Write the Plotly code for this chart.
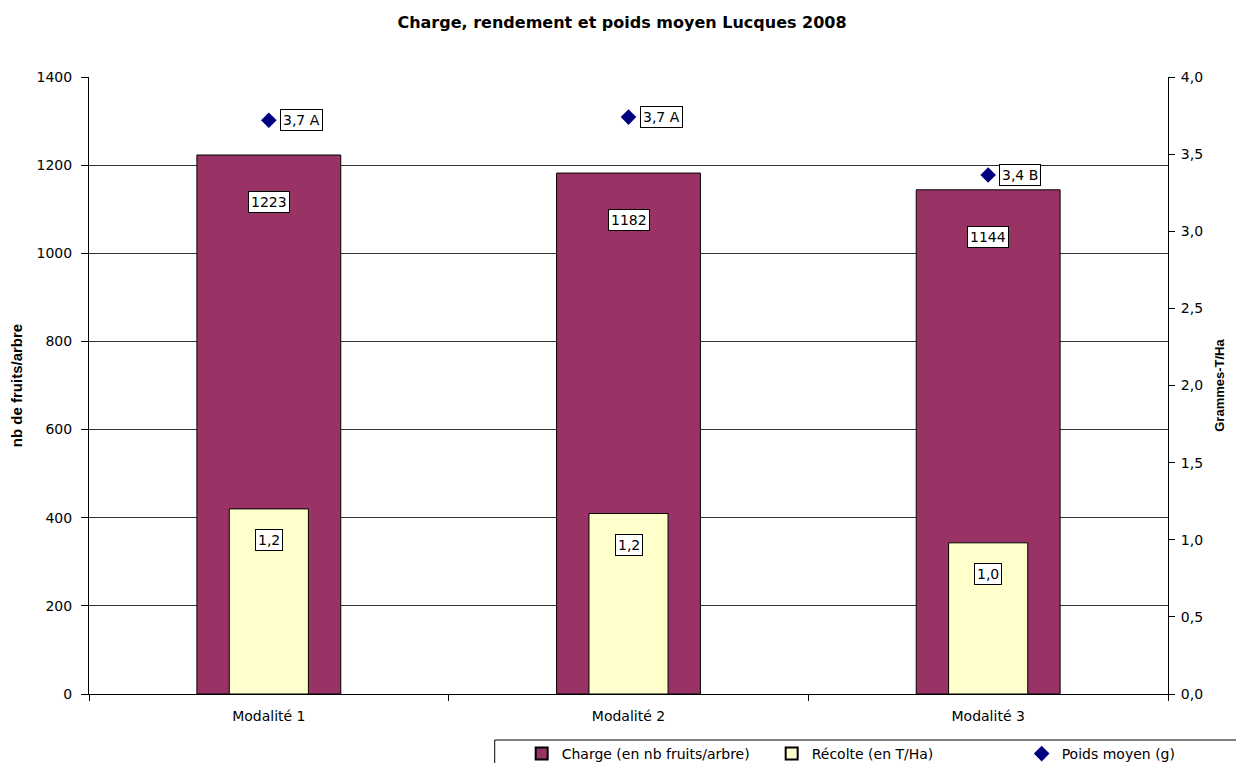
import plotly.graph_objects as go

# données Lucques 2008
modalites = ["Modalité 1", "Modalité 2", "Modalité 3"]
charge = [1223, 1182, 1144]
recolte = [1.20, 1.17, 0.98]
recolte_txt = ["1,2", "1,2", "1,0"]
poids = [3.72, 3.74, 3.365]
poids_txt = ["3,7 A", "3,7 A", "3,4 B"]

FONT = "DejaVu Sans"
FONT_B = "Liberation Sans, Arial"

fig = go.Figure()

fig.add_trace(go.Bar(
    x=modalites, y=charge, name="Charge (en nb fruits/arbre)",
    marker=dict(color="#993366", line=dict(color="black", width=1)),
    width=0.4, yaxis="y"))

fig.add_trace(go.Bar(
    x=modalites, y=recolte, name="Récolte (en T/Ha)",
    marker=dict(color="#FFFFCC", line=dict(color="black", width=1)),
    width=0.22, yaxis="y2"))

fig.add_trace(go.Scatter(
    x=modalites, y=poids, name="Poids moyen (g)", mode="markers",
    marker=dict(symbol="diamond", color="#000080", size=12),
    yaxis="y2"))

# étiquettes encadrées
lab = dict(showarrow=False, bgcolor="white", bordercolor="black", borderwidth=1,
           borderpad=2, font=dict(family=FONT, size=14, color="black"))
for m, v in zip(modalites, charge):
    fig.add_annotation(x=m, y=v, yref="y", text=str(v), yshift=-47, **lab)
for m, v, t in zip(modalites, recolte, recolte_txt):
    fig.add_annotation(x=m, y=v, yref="y2", text=t, yshift=-31, **lab)
for m, v, t in zip(modalites, poids, poids_txt):
    fig.add_annotation(x=m, y=v, yref="y2", text=t, xanchor="left", xshift=11, **lab)

# cadre de la légende
fig.add_shape(type="rect", xref="paper", yref="paper",
              x0=0.376, x1=1.2, y0=-0.2, y1=-0.0746,
              line=dict(color="black", width=1), fillcolor="white", layer="below")

fig.update_layout(
    width=1244, height=763,
    margin=dict(l=81, r=84, t=69, b=77, autoexpand=False),
    paper_bgcolor="white", plot_bgcolor="white",
    separators=", ",
    barmode="overlay",
    font=dict(family=FONT, size=14, color="black"),
    title=dict(text="<b>Charge, rendement et poids moyen Lucques 2008</b>",
               x=0.4936, xanchor="center", y=0.9817, yanchor="middle",
               font=dict(family=FONT, size=16)),
    xaxis=dict(showline=True, linecolor="black", ticks="outside", ticklen=6,
               tickson="boundaries", tickcolor="black", showgrid=False,
               ticklabelstandoff=9, automargin=False),
    yaxis=dict(range=[0, 1400], dtick=200, showline=True, linecolor="black",
               ticks="outside", ticklen=7, tickcolor="black", automargin=False,
               ticklabelstandoff=6,
               showgrid=True, gridcolor="#333", gridwidth=1, zeroline=False,
               title=dict(text="<b>nb de fruits/arbre</b>",
                          font=dict(family=FONT_B, size=15), standoff=14)),
    yaxis2=dict(range=[0, 4.0], dtick=0.5, tickformat=".1f", overlaying="y",
                side="right", showline=True, linecolor="black", ticks="outside",
                ticklen=6, tickcolor="black", showgrid=False, zeroline=False,
                ticklabelstandoff=3, automargin=False,
                title=dict(text="<b>Grammes-T/Ha</b>",
                           font=dict(family=FONT_B, size=13), standoff=12)),
    legend=dict(orientation="h", x=0.401, xanchor="left", y=-0.0713, yanchor="top",
                bgcolor="rgba(0,0,0,0)", borderwidth=0,
                entrywidth=205, entrywidthmode="pixels",
                font=dict(family=FONT, size=14), itemsizing="constant"),
)

fig.write_html("out.html")
